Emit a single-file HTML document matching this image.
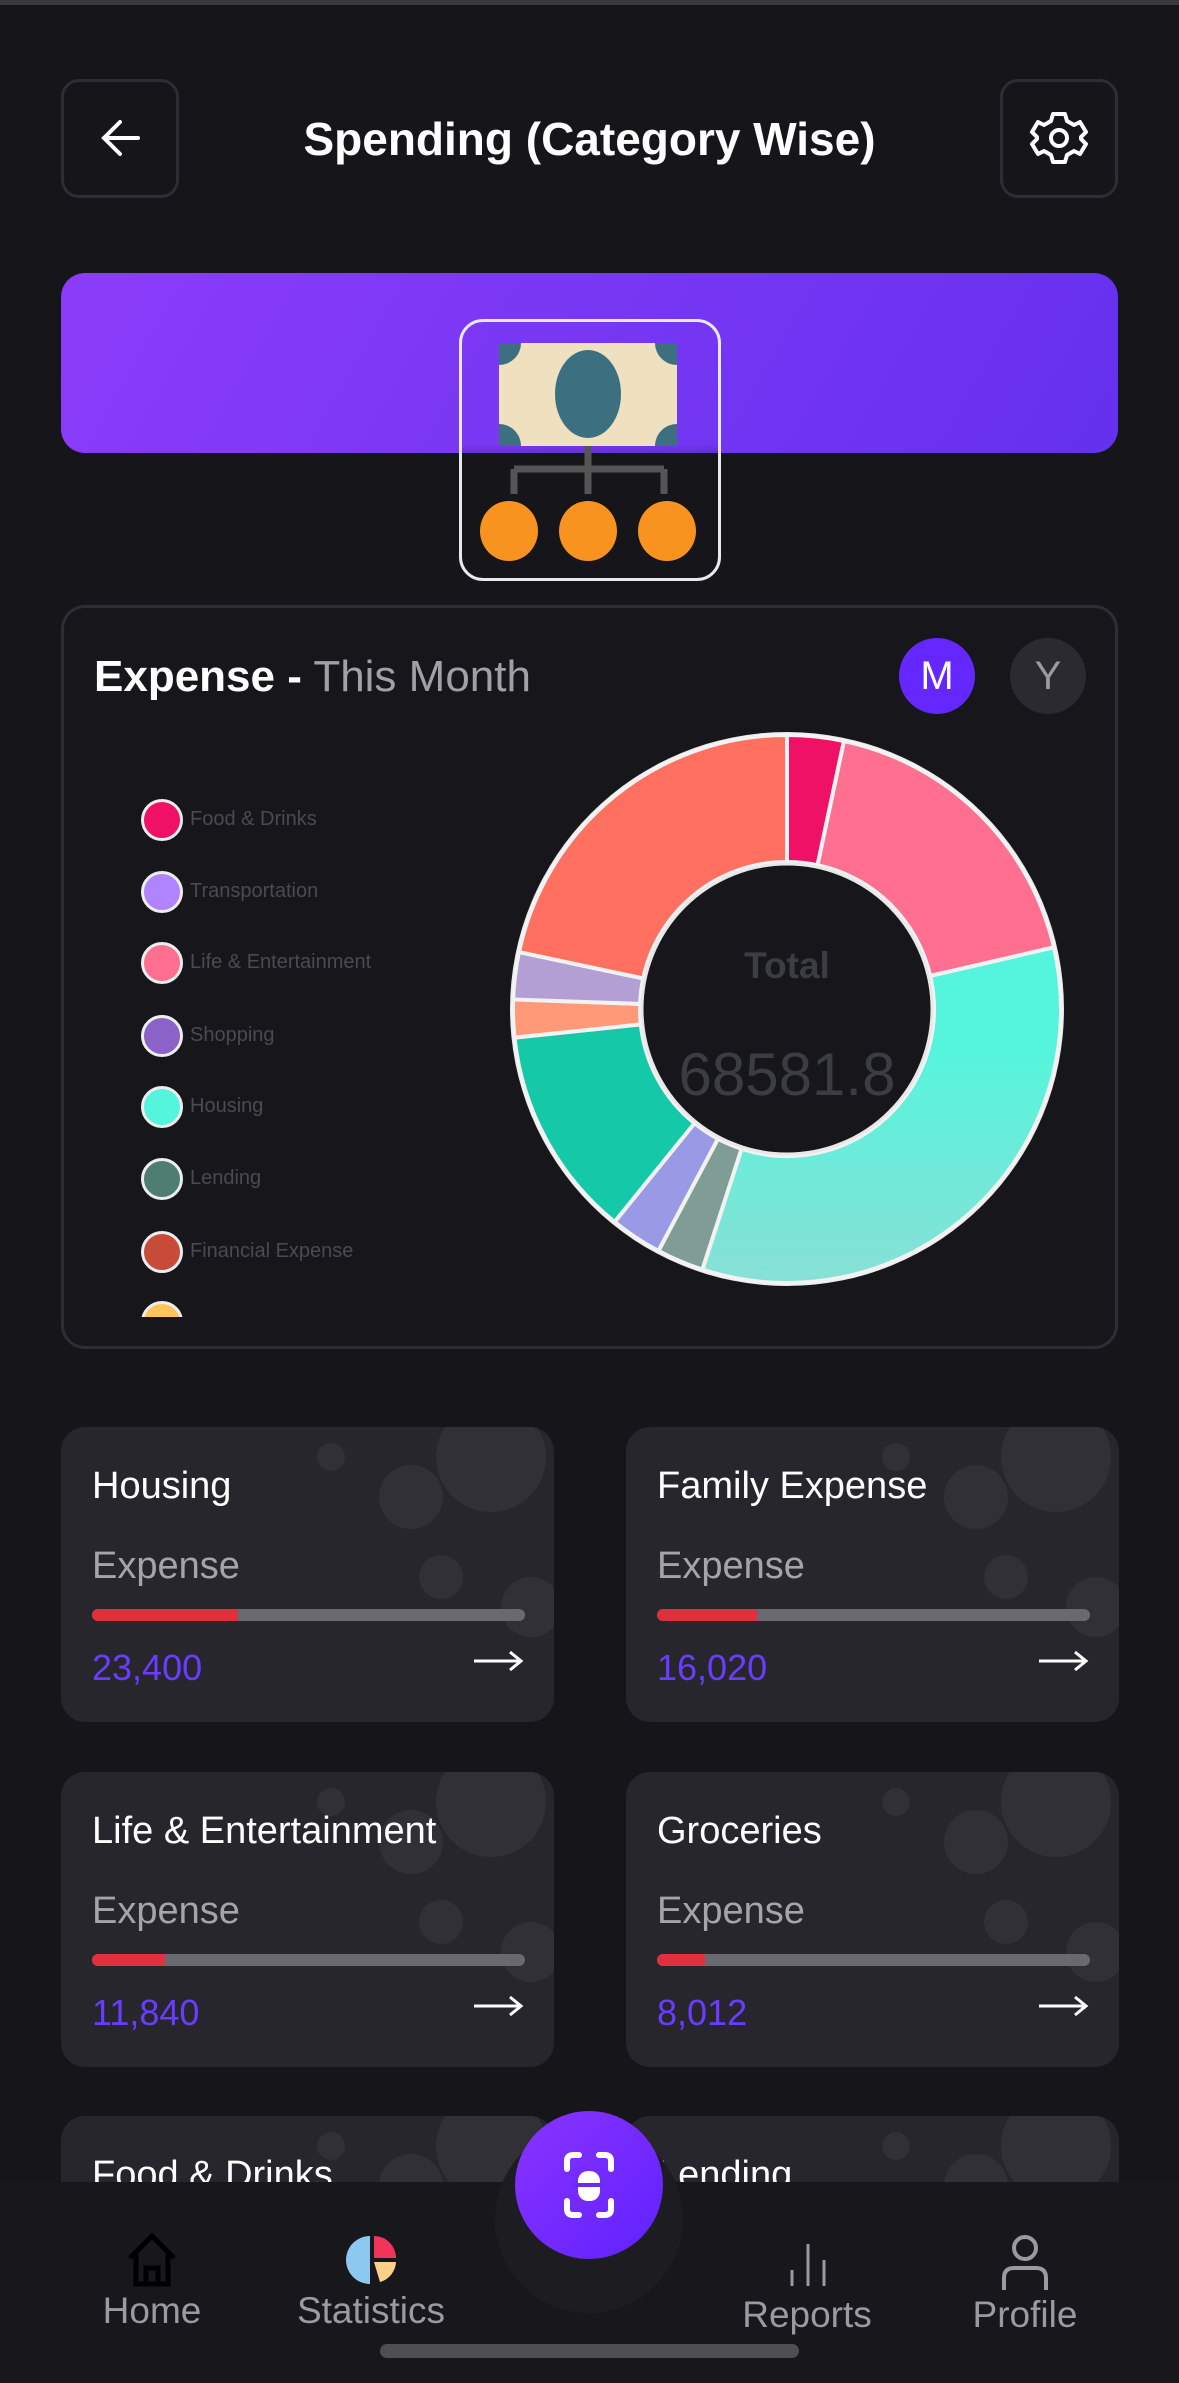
<!DOCTYPE html>
<html style="overflow:hidden;height:2383px"><head><meta charset="utf-8">
<style>
*{margin:0;padding:0;box-sizing:border-box}
body{width:1179px;height:2383px;background:#16151a;font-family:"Liberation Sans",sans-serif;position:relative;overflow:hidden;color:#fff}
.abs{position:absolute}
.btn{position:absolute;width:118px;height:119px;border:3px solid #2e2d33;border-radius:18px;top:79px}
.card{position:absolute;width:493px;height:295px;background:#27262c;border-radius:24px;overflow:hidden}
.card .t{position:absolute;left:31px;top:38px;font-size:38px;color:#fff}
.card .e{position:absolute;left:31px;top:118px;font-size:38px;color:#a5a4ab}
.card .bar{position:absolute;left:31px;top:182px;width:433px;height:12px;border-radius:6px;background:#6a6970;overflow:hidden}
.card .bar i{position:absolute;left:0;top:0;height:12px;background:#e0303e}
.card .v{position:absolute;left:31px;top:220px;font-size:36px;color:#6a3cff}
.card .ar{position:absolute;right:30px;top:222px}
.coin{position:absolute;border-radius:50%;background:#303036}
.lg{position:absolute;left:141px;width:42px;height:42px;border-radius:50%;border:3px solid #eee}
.ll{position:absolute;left:190px;font-size:20px;color:#4a4a50}
.nl{position:absolute;font-size:37px;color:#9a9aa2;transform:translateX(-50%)}
</style></head><body>
<div class="abs" style="left:0;top:0;width:1179px;height:5px;background:#3a3a3e"></div>
<div class="btn" style="left:61px"><svg width="112" height="113" viewBox="0 0 112 113"><path d="M40 56 H74 M56 40 L40 56 L56 72" stroke="#fff" stroke-width="4" fill="none" stroke-linecap="round"/></svg></div>
<div class="btn" style="left:1000px"><svg width="112" height="113" viewBox="0 0 112 113"><g transform="translate(56 56)" stroke="#fff" stroke-width="4" fill="none"><circle r="8"/><path d="M-6 -24 L6 -24 L8 -17 L15 -13 L21 -16 L27 -6 L22 -1 L22 1 L27 6 L21 16 L15 13 L8 17 L6 24 L-6 24 L-8 17 L-15 13 L-21 16 L-27 6 L-22 1 L-22 -1 L-27 -6 L-21 -16 L-15 -13 L-8 -17 Z" stroke-linejoin="round"/></g></svg></div>
<div class="abs" style="left:0;width:1179px;top:112px;text-align:center;font-size:46px;font-weight:bold">Spending (Category Wise)</div>

<div class="abs" style="left:61px;top:273px;width:1057px;height:180px;border-radius:24px;background:linear-gradient(120deg,#8c3cf9,#7737f3 50%,#6530ef)"></div>
<div class="abs" style="left:459px;top:319px;width:262px;height:262px;border:3px solid #e8e8ee;border-radius:24px;background:linear-gradient(180deg,transparent 0,transparent 122px,#16151a 180px)"></div>
<svg class="abs" style="left:459px;top:319px" width="262" height="262">
<defs><clipPath id="mc"><rect x="40" y="24" width="178" height="103"/></clipPath></defs>
<g clip-path="url(#mc)">
<rect x="40" y="24" width="178" height="103" fill="#efe0c0"/>
<ellipse cx="129" cy="75" rx="33" ry="44" fill="#3c7080"/>
<circle cx="40" cy="24" r="22" fill="#3c7080"/><circle cx="218" cy="24" r="22" fill="#3c7080"/>
<circle cx="40" cy="127" r="22" fill="#3c7080"/><circle cx="218" cy="127" r="22" fill="#3c7080"/>
</g>
<path d="M129 127 V150 M55 150 H205 M55 150 V175 M129 150 V175 M205 150 V175" stroke="#555" stroke-width="7" fill="none"/>
<ellipse cx="50" cy="212" rx="29" ry="30" fill="#f7931e"/><ellipse cx="129" cy="212" rx="29" ry="30" fill="#f7931e"/><ellipse cx="208" cy="212" rx="29" ry="30" fill="#f7931e"/>
</svg>

<div class="abs" style="left:61px;top:605px;width:1057px;height:744px;border:3px solid #2e2d33;border-radius:24px;background:#17161b"></div>
<div class="abs" style="left:94px;top:652px;font-size:44px"><b>Expense -</b> <span style="color:#a0a1a6">This Month</span></div>
<div class="abs" style="left:899px;top:638px;width:76px;height:76px;border-radius:50%;background:#6428ff;text-align:center;line-height:76px;font-size:40px">M</div>
<div class="abs" style="left:1010px;top:638px;width:76px;height:76px;border-radius:50%;background:#2b2a30;text-align:center;line-height:76px;font-size:40px;color:#9a9aa2">Y</div>

<div id="leg"></div>
<svg id="d" class="abs" style="left:0;top:0" width="1179" height="1400"></svg>
<div class="abs" style="left:687px;width:200px;top:945px;text-align:center;font-size:37px;font-weight:bold;color:#3a3d42">Total</div>
<div class="abs" style="left:627px;width:320px;top:1040px;text-align:center;font-size:60px;color:#3a3d42">68581.8</div>

<div class="card" style="left:61px;top:1427px"><div class="t">Housing</div><div class="e">Expense</div><div class="bar"><i style="width:146px"></i></div><div class="v">23,400</div></div>
<div class="card" style="left:626px;top:1427px"><div class="t">Family Expense</div><div class="e">Expense</div><div class="bar"><i style="width:100px"></i></div><div class="v">16,020</div></div>
<div class="card" style="left:61px;top:1772px"><div class="t">Life &amp; Entertainment</div><div class="e">Expense</div><div class="bar"><i style="width:73px"></i></div><div class="v">11,840</div></div>
<div class="card" style="left:626px;top:1772px"><div class="t">Groceries</div><div class="e">Expense</div><div class="bar"><i style="width:48px"></i></div><div class="v">8,012</div></div>
<div class="card" style="left:61px;top:2116px;height:200px"><div class="t">Food &amp; Drinks</div></div>
<div class="card" style="left:626px;top:2116px;height:200px"><div class="t">Lending</div></div>

<div class="abs" style="left:0;top:2182px;width:1179px;height:201px;background:#18171c"></div>
<div class="abs" style="left:495px;top:2125px;width:188px;height:188px;border-radius:50%;background:#1d1c21"></div>
<div class="abs" style="left:515px;top:2111px;width:148px;height:148px;border-radius:50%;background:linear-gradient(135deg,#8a33ff,#5f22ff)"></div>
<svg class="abs" style="left:515px;top:2111px" width="148" height="148"><g stroke="#fff" stroke-width="6" fill="none" stroke-linecap="round"><path d="M52 58 V50 Q52 44 58 44 H64 M84 44 H90 Q96 44 96 50 V58 M52 90 V98 Q52 104 58 104 H64 M84 104 H90 Q96 104 96 98 V90"/></g><rect x="63" y="60" width="22" height="30" rx="10" fill="#fff"/><path d="M56 74 H92" stroke="#6a2aff" stroke-width="4"/><path d="M56 74 H92" stroke="#fff" stroke-width="0"/></svg>

<svg class="abs" style="left:124px;top:2232px" width="56" height="56"><path d="M6 26 L28 4 L50 26 M12 22 V52 H44 V22 M22 52 V36 H34 V52" stroke="#000" stroke-width="5" fill="none"/></svg>
<svg class="abs" style="left:344px;top:2232px" width="56" height="56"><path d="M26 4 A24 24 0 0 0 26 52 Z" fill="#8cc8f0"/><path d="M30 4 A22 22 0 0 1 52 26 H30 Z" fill="#f0345a"/><path d="M30 30 H52 A22 22 0 0 1 36 50 Z" fill="#ffd08a"/></svg>
<svg class="abs" style="left:780px;top:2234px" width="56" height="56"><path d="M12 52 V36 M28 52 V10 M44 52 V26" stroke="#9a9aa2" stroke-width="3"/></svg>
<svg class="abs" style="left:996px;top:2232px" width="58" height="60"><circle cx="29" cy="16" r="11" stroke="#9a9aa2" stroke-width="4" fill="none"/><path d="M8 58 V46 Q8 36 18 36 H40 Q50 36 50 46 V58" stroke="#9a9aa2" stroke-width="4" fill="none"/></svg>
<div class="nl" style="left:152px;top:2290px">Home</div>
<div class="nl" style="left:371px;top:2290px">Statistics</div>
<div class="nl" style="left:807px;top:2294px">Reports</div>
<div class="nl" style="left:1025px;top:2294px">Profile</div>
<div class="abs" style="left:380px;top:2344px;width:419px;height:14px;border-radius:7px;background:#4f4f52"></div>

<script>
var NS="http://www.w3.org/2000/svg",d=document.getElementById('d');
function el(t,a,p){var e=document.createElementNS(NS,t);for(var k in a)e.setAttribute(k,a[k]);(p||d).appendChild(e);return e}
document.querySelectorAll('.card').forEach(function(c,i){
 [[430,30,55],[350,70,32],[270,30,14],[470,180,30],[380,150,22]].forEach(function(q){var s=document.createElement('div');s.className='coin';s.style.cssText='left:'+(q[0]-q[2])+'px;top:'+(q[1]-q[2])+'px;width:'+2*q[2]+'px;height:'+2*q[2]+'px';c.insertBefore(s,c.firstChild)});
 if(i<4){var a=document.createElementNS(NS,'svg');a.setAttribute('width','52');a.setAttribute('height','24');a.setAttribute('class','ar');a.innerHTML='<path d="M2 12 H48 M38 3 L49 12 L38 21" stroke="#fff" stroke-width="3" fill="none"/>';c.appendChild(a)}
});
var L=[["#ee1166","Food & Drinks"],["#b084ff","Transportation"],["#ff7090","Life & Entertainment"],["#8a62c8","Shopping"],["#55f5dd","Housing"],["#4e7d72","Lending"],["#c84a38","Financial Expense"],["#ffc45a","Groceries"]];
var lh='';L.forEach(function(l,i){var y=[820,892,963,1036,1107,1179,1252,1323][i];
 if(i<7){lh+='<div class="lg" style="top:'+(y-21)+'px;background:'+l[0]+'"></div><div class="ll" style="top:'+(y-12)+'px">'+l[1]+'</div>'}
 else lh+='<div class="abs" style="left:141px;top:1301px;width:42px;height:16px;overflow:hidden"><div style="width:42px;height:42px;border-radius:50%;border:3px solid #eee;background:'+l[0]+'"></div></div>';});
document.getElementById('leg').innerHTML=lh;
var cx=787,cy=1009,R=275,r=147;
el('circle',{cx:cx,cy:cy,r:R+2,fill:'#e8e8e8'});
var S=[[0,12,'#ee1166'],[12,77,'#ff7090'],[77,198,'#55f0d8'],[198,208,'#7f9c95'],[208,219,'#9999e6'],[219,264,'#14c8a8'],[264,272,'#ff9977'],[272,282,'#b39fd4'],[282,360,'#ff7060']];
function P(a,rr){var t=(a-90)*Math.PI/180;return [cx+rr*Math.cos(t),cy+rr*Math.sin(t)]}
var g=el('linearGradient',{id:'hg',x1:'0',y1:'0',x2:'0',y2:'1'},el('defs',{}));
el('stop',{offset:'0.3','stop-color':'#55f5dd'},g);el('stop',{offset:'1','stop-color':'#88e0d6'},g);
S.forEach(function(s){var a=P(s[0],R-1),b=P(s[1],R-1),c=P(s[1],r),e=P(s[0],r),lg=(s[1]-s[0])>180?1:0;
 el('path',{d:'M'+a+' A'+(R-1)+' '+(R-1)+' 0 '+lg+' 1 '+b+' L'+c+' A'+r+' '+r+' 0 '+lg+' 0 '+e+'Z',fill:s[2]==='#55f0d8'?'url(#hg)':s[2],stroke:'#f2f2f2','stroke-width':4,'stroke-linejoin':'round'})});
el('circle',{cx:cx,cy:cy,r:r-2,fill:'#17161b',stroke:'#e8e8e8','stroke-width':3});
</script>
</body></html>
